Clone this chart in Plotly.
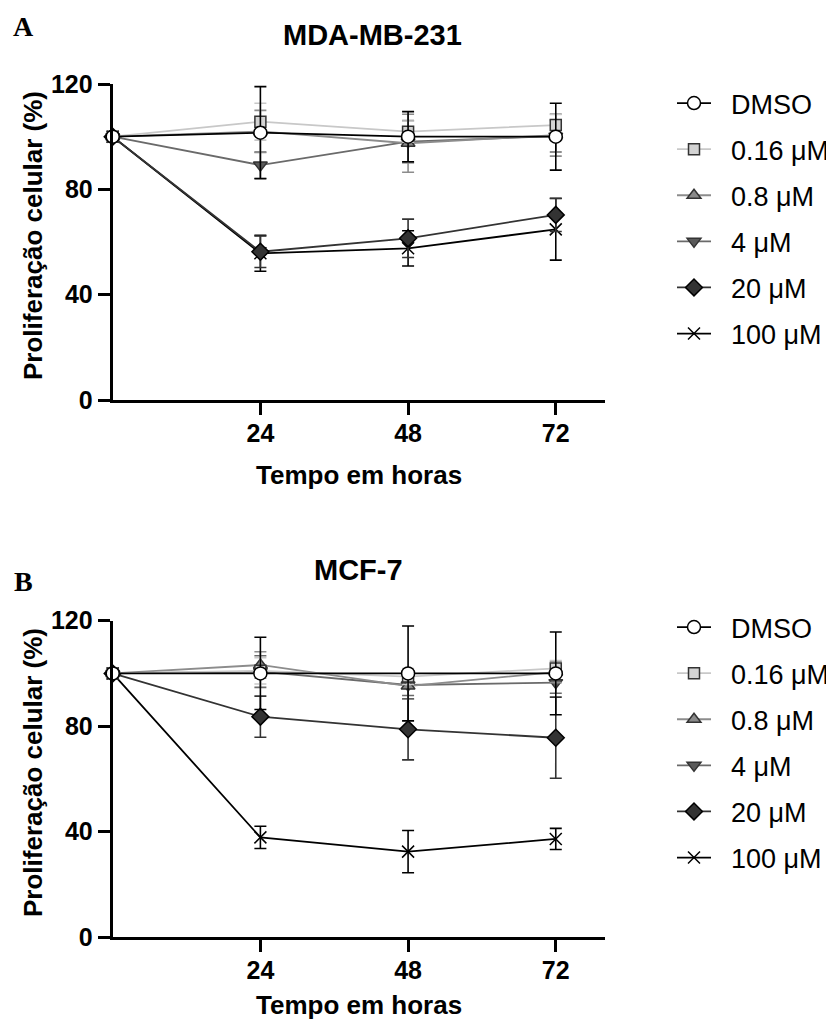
import plotly.graph_objects as go

hours = [0, 24, 48, 72]
series_names = ["DMSO", "0.16 μM", "0.8 μM", "4 μM", "20 μM", "100 μM"]

# Panel A: MDA-MB-231
a_dmso = [100, 101.5, 100, 100]
a_dmso_err = [0, 17.5, 9.5, 12.7]
a_016 = [100, 105.7, 101.9, 104.4]
a_016_err = [0, 7, 4, 4]
a_08 = [100, 102, 97.5, 100.6]
a_08_err = [0, 8, 11, 8]
a_4 = [100, 89.2, 98.1, 100.2]
a_4_err = [0, 5, 8, 6]
a_20 = [100, 56.3, 61.4, 70.3]
a_20_err = [0, 6, 7.3, 6.3]
a_100 = [100, 55.7, 57.6, 64.8]
a_100_err = [0, 6.8, 6.7, 11.7]

# Panel B: MCF-7
b_dmso = [100, 100, 100, 100]
b_dmso_err = [0, 13.7, 18, 15.7]
b_016 = [100, 101, 98.8, 101.9]
b_016_err = [0, 5, 3, 3]
b_08 = [100, 103.2, 95.2, 100.5]
b_08_err = [0, 5, 5, 4]
b_4 = [100, 100.7, 95.6, 96.5]
b_4_err = [0, 6, 4, 4]
b_20 = [100, 83.6, 78.8, 75.6]
b_20_err = [0, 7.8, 11.6, 15.4]
b_100 = [100, 37.8, 32.4, 37.2]
b_100_err = [0, 4.2, 8, 4]

x_ticks = [24, 48, 72]
y_ticks = [0, 40, 80, 120]

W, H, OFF = 834, 1020, 8  # page body margin offset


def PX(px):
    return (px - OFF) / W


def PY(py):
    return 1 - (py - OFF) / H


styles = [
    dict(symbol="circle", size=13, fill="white", edge="black", line="black", err="black"),
    dict(symbol="square", size=11, fill="#d3d3d3", edge="#333333", line="#c8c8c8", err="#c8c8c8"),
    dict(symbol="triangle-up", size=12, fill="#8a8a8a", edge="#333333", line="#8c8c8c", err="#8c8c8c"),
    dict(symbol="triangle-down", size=12, fill="#5a5a5a", edge="#333333", line="#6a6a6a", err="#6a6a6a"),
    dict(symbol="diamond", size=13, fill="#333333", edge="black", line="#333333", err="#333333"),
    dict(symbol="x-thin", size=12, fill="black", edge="black", line="black", err="black"),
]

panels = [
    ("A", "x", "y", "legend", [a_dmso, a_016, a_08, a_4, a_20, a_100],
     [a_dmso_err, a_016_err, a_08_err, a_4_err, a_20_err, a_100_err]),
    ("B", "x2", "y2", "legend2", [b_dmso, b_016, b_08, b_4, b_20, b_100],
     [b_dmso_err, b_016_err, b_08_err, b_4_err, b_20_err, b_100_err]),
]

fig = go.Figure()
for pid, xa, ya, leg, vals, errs in panels:
    for i in reversed(range(6)):
        s = styles[i]
        fig.add_trace(go.Scatter(
            x=hours, y=vals[i], name="\u00a0\u00a0" + series_names[i], mode="lines+markers",
            xaxis=xa, yaxis=ya, legend=leg, legendgroup=pid + str(i), legendrank=i + 1,
            cliponaxis=False,
            line=dict(color=s["line"], width=1.8),
            marker=dict(symbol=s["symbol"], size=s["size"], color=s["fill"],
                        line=dict(color=s["edge"], width=1.5)),
            error_y=dict(type="data", array=errs[i], color=s["err"], thickness=1.6, width=6),
        ))

tickfont = dict(family="Liberation Sans", size=25, color="black", weight="bold")
xax = dict(range=[0, 80], tickvals=x_ticks, showline=True, linewidth=3, linecolor="black",
           ticks="outside", ticklen=12, tickwidth=3, tickcolor="black", tickfont=tickfont,
           showgrid=False, zeroline=False, domain=[PX(112.7), PX(605)], fixedrange=True,
           automargin=False, ticklabelstandoff=-3)
yax = dict(range=[0, 120], tickvals=y_ticks, showline=True, linewidth=3, linecolor="black",
           ticks="outside", ticklen=12, tickwidth=3, tickcolor="black", tickfont=tickfont,
           showgrid=False, zeroline=False, fixedrange=True, automargin=False)

legfont = dict(family="Liberation Sans", size=27, color="black")
fig.update_layout(
    width=W, height=H, margin=dict(l=0, r=0, t=0, b=0, autoexpand=False),
    paper_bgcolor="white", plot_bgcolor="white", showlegend=True,
    xaxis=dict(xax, anchor="y"),
    yaxis=dict(yax, anchor="x", domain=[PY(400), PY(84)]),
    xaxis2=dict(xax, anchor="y2"),
    yaxis2=dict(yax, anchor="x2", domain=[PY(937), PY(620.7)]),
    legend=dict(x=PX(672), y=PY(79), xanchor="left", yanchor="top", font=legfont,
                tracegroupgap=8, itemwidth=34, bgcolor="rgba(0,0,0,0)"),
    legend2=dict(x=PX(672), y=PY(603), xanchor="left", yanchor="top", font=legfont,
                 tracegroupgap=8, itemwidth=34, bgcolor="rgba(0,0,0,0)"),
)

title_font = dict(family="Liberation Sans", size=29, color="black", weight="bold")
axis_title_font = dict(family="Liberation Sans", size=26, color="black", weight="bold")
letter_font = dict(family="Liberation Serif", size=28, color="black", weight="bold")

annots = [
    dict(text="A", x=PX(23), y=PY(26), font=letter_font),
    dict(text="MDA-MB-231", x=PX(372), y=PY(35), font=title_font),
    dict(text="Proliferação celular (%)", x=PX(33), y=PY(236), font=axis_title_font, textangle=-90),
    dict(text="Tempo em horas", x=PX(359), y=PY(475), font=axis_title_font),
    dict(text="B", x=PX(23), y=PY(581), font=letter_font),
    dict(text="MCF-7", x=PX(358), y=PY(570), font=title_font),
    dict(text="Proliferação celular (%)", x=PX(33), y=PY(773), font=axis_title_font, textangle=-90),
    dict(text="Tempo em horas", x=PX(359), y=PY(1005), font=axis_title_font),
]
for a in annots:
    fig.add_annotation(xref="paper", yref="paper", xanchor="center", yanchor="middle",
                       showarrow=False, **a)

fig.write_html("out.html")
